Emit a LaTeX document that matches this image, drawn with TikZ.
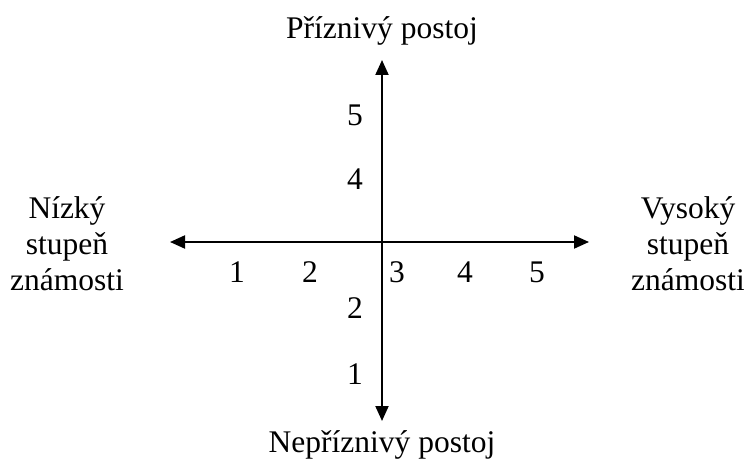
\documentclass[tikz,border=0pt]{standalone}
\usepackage{fontspec}
\setmainfont{Liberation Serif}
\usetikzlibrary{arrows.meta}
\begin{document}
\begin{tikzpicture}[x=1pt,y=-1pt,
  axis/.style={line width=2pt,-{Triangle[length=15pt,width=13pt]}},
  lbl/.style={font=\fontsize{31.5}{36}\selectfont,inner sep=0pt,align=center},
  num/.style={font=\fontsize{31.5}{36}\selectfont,inner sep=0pt,anchor=base}]
\useasboundingbox (0,0) rectangle (744,468);
\coordinate (o) at (382,242);
\coordinate (top) at (382,60);
\coordinate (bot) at (382,421);
\coordinate (lft) at (170,242);
\coordinate (rgt) at (589,242);
\draw[axis] (o) -- (top);
\draw[axis] (o) -- (bot);
\draw[axis] (o) -- (lft);
\draw[axis] (o) -- (rgt);
\node[lbl,anchor=base] (tt) at (382,39) {Příznivý postoj};
\node[lbl,anchor=base] (bt) at (382,452) {Nepříznivý postoj};
\node[lbl] (lt) at (67,244) {Nízký\\stupeň\\známosti};
\node[lbl] (rt) at (688,244) {Vysoký\\stupeň\\známosti};
\node[num] (h1) at (237,282) {1};
\node[num] (h2) at (310,282) {2};
\node[num] (h3) at (397,282) {3};
\node[num] (h4) at (465,282) {4};
\node[num] (h5) at (537,282) {5};
\node[num] (v5) at (355,126) {5};
\node[num] (v4) at (355,189) {4};
\node[num] (v2) at (355,318) {2};
\node[num] (v1) at (355,384) {1};
\end{tikzpicture}
\end{document}
